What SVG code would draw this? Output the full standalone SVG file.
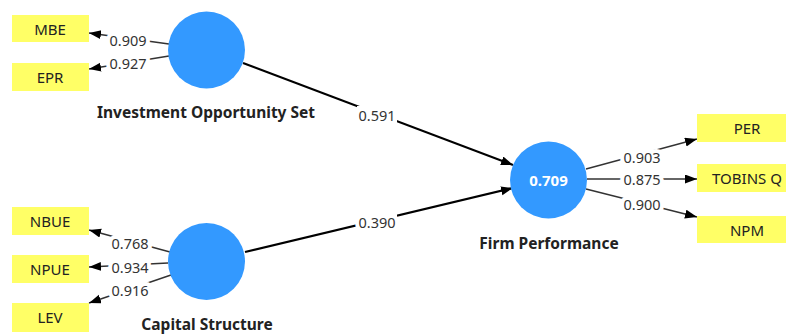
<svg xmlns="http://www.w3.org/2000/svg" width="786" height="334" viewBox="0 0 786 334">
<defs>
<marker id="ah" markerUnits="userSpaceOnUse" markerWidth="14" markerHeight="10" refX="12" refY="4.5" orient="auto">
<path d="M0,0 L12,4.5 L0,9 z" fill="#000"/>
</marker>
<style>
.ind{stroke:#333;stroke-width:1.4;fill:none;marker-end:url(#ah)}
.path{stroke:#000;stroke-width:2.2;fill:none;marker-end:url(#ah)}
.lv{fill:#3399ff}
.box{fill:#ffff66}
.bg{fill:#fff}
.bt{font-family:"Noto Sans","DejaVu Sans",sans-serif;font-size:15px;fill:#222;text-anchor:middle;dominant-baseline:central}
.lbl{font-family:"Noto Sans","DejaVu Sans",sans-serif;font-size:14.5px;fill:#333;text-anchor:middle;dominant-baseline:central;stroke:#fff;stroke-width:8;paint-order:stroke;stroke-linejoin:round}
.name{font-family:"Noto Sans","DejaVu Sans",sans-serif;font-size:15.5px;font-weight:bold;fill:#222;text-anchor:middle;dominant-baseline:central}
.r2{font-family:"Noto Sans","DejaVu Sans",sans-serif;font-size:15px;font-weight:bold;fill:#fff;text-anchor:middle;dominant-baseline:central}
</style>
</defs>
<rect width="786" height="334" fill="#fff"/>
<g id="connectors">
<line class="ind" x1="169" y1="44" x2="89" y2="33"/>
<line class="ind" x1="169" y1="56" x2="89" y2="69"/>
<line class="ind" x1="170" y1="252" x2="89" y2="230"/>
<line class="ind" x1="168" y1="263" x2="89" y2="267"/>
<line class="ind" x1="171" y1="275" x2="89" y2="303"/>
<line class="ind" x1="586" y1="169" x2="697" y2="139"/>
<line class="ind" x1="587" y1="179" x2="697" y2="179"/>
<line class="ind" x1="586" y1="189" x2="697" y2="217"/>
<line class="path" x1="243" y1="63" x2="513" y2="165"/>
<line class="path" x1="245" y1="252" x2="513" y2="188"/>
<rect class="bg" x="357" y="106" width="40" height="18"/>
<rect class="bg" x="357" y="213" width="40" height="18"/>
<text class="lbl" x="128" y="40">0.909</text>
<text class="lbl" x="128" y="63">0.927</text>
<text class="lbl" x="130" y="243">0.768</text>
<text class="lbl" x="130" y="267">0.934</text>
<text class="lbl" x="130" y="290">0.916</text>
<text class="lbl" x="642" y="157">0.903</text>
<text class="lbl" x="642" y="179">0.875</text>
<text class="lbl" x="642" y="204">0.900</text>
<text class="lbl" x="377" y="115">0.591</text>
<text class="lbl" x="377" y="222">0.390</text>
</g>
<g id="MBE"><rect class="box" x="12" y="15" width="77" height="27"/><text class="bt" x="50" y="29">MBE</text></g>
<g id="EPR"><rect class="box" x="12" y="63" width="77" height="28"/><text class="bt" x="50" y="77">EPR</text></g>
<g id="NBUE"><rect class="box" x="12" y="207" width="77" height="28"/><text class="bt" x="50" y="221">NBUE</text></g>
<g id="NPUE"><rect class="box" x="12" y="255" width="77" height="28"/><text class="bt" x="50" y="269">NPUE</text></g>
<g id="LEV"><rect class="box" x="12" y="303" width="77" height="29"/><text class="bt" x="50" y="317">LEV</text></g>
<g id="PER"><rect class="box" x="697" y="114" width="100" height="28"/><text class="bt" x="747" y="128">PER</text></g>
<g id="TOBINSQ"><rect class="box" x="697" y="164" width="100" height="28"/><text class="bt" x="747" y="178">TOBINS Q</text></g>
<g id="NPM"><rect class="box" x="697" y="216" width="100" height="27"/><text class="bt" x="747" y="230">NPM</text></g>
<g id="IOS"><circle class="lv" cx="206.5" cy="50" r="38.5"/><text class="name" x="206" y="112">Investment Opportunity Set</text></g>
<g id="CS"><circle class="lv" cx="206.5" cy="261.5" r="38.5"/><text class="name" x="207" y="324">Capital Structure</text></g>
<g id="FP"><circle class="lv" cx="548.5" cy="180" r="38.5"/><text class="r2" x="548.5" y="180">0.709</text><text class="name" x="549" y="243">Firm Performance</text></g>
</svg>
